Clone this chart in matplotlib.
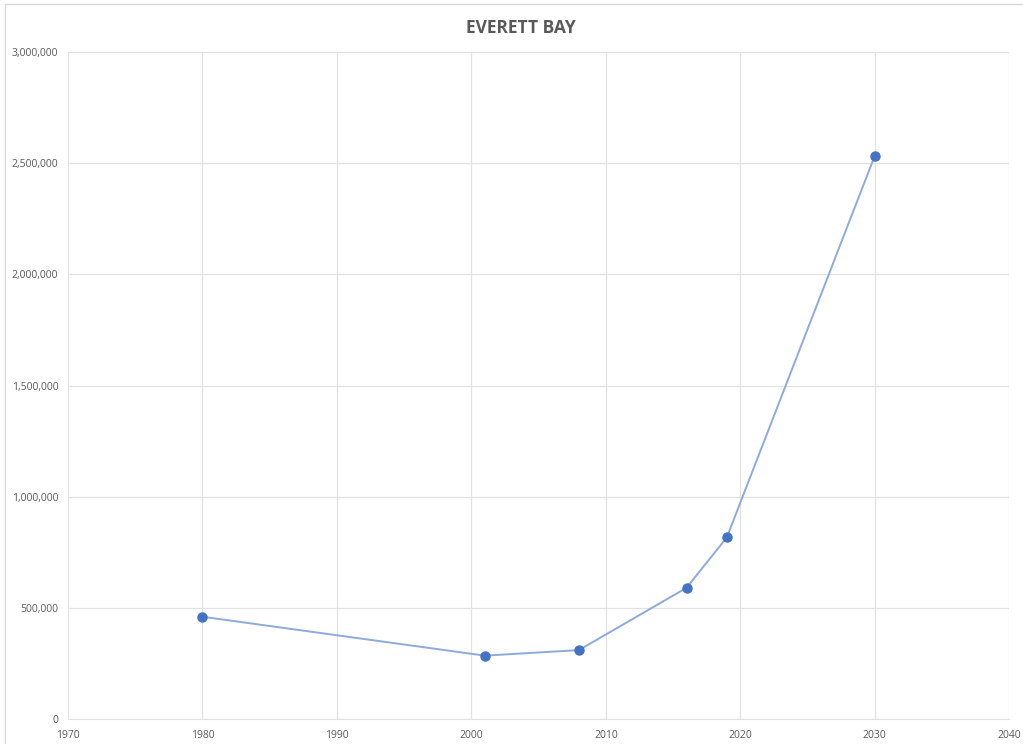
import matplotlib.pyplot as plt
from matplotlib.patches import Rectangle
from matplotlib.ticker import FuncFormatter, MultipleLocator

# Everett Bay series
years = [1980, 2001, 2008, 2016, 2019, 2030]
values = [460000, 285000, 310000, 590000, 817000, 2533000]

GRID = '#e2e2e2'
TEXT = '#595959'

plt.rcParams['font.family'] = ['Open Sans', 'DejaVu Sans']

fig = plt.figure(figsize=(10.23, 7.44), dpi=100)
ax = fig.add_axes([0.0665, 0.0336, 0.92, 0.8964])

ax.plot(years, values, '-', color='#8eaadb', linewidth=1.4, zorder=3)
ax.plot(years, values, 'o', color='#4472c4', markersize=6.5, zorder=4)

ax.set_xlim(1970, 2040)
ax.set_ylim(0, 3000000)
ax.xaxis.set_major_locator(MultipleLocator(10))
ax.yaxis.set_major_locator(MultipleLocator(500000))
ax.yaxis.set_major_formatter(FuncFormatter(lambda v, p: f'{int(v):,}'))

ax.grid(True, color=GRID, linewidth=0.9)
ax.set_axisbelow(True)
for s in ax.spines.values():
    s.set_visible(False)
ax.spines['bottom'].set_visible(True)
ax.spines['bottom'].set_color(GRID)
ax.tick_params(length=0, labelsize=7.5, colors=TEXT)
ax.tick_params(axis='y', pad=7)
ax.tick_params(axis='x', pad=8)

fig.text(0.509, 0.963, 'EVERETT BAY', ha='center', va='center',
         fontsize=12.5, fontweight='bold', color=TEXT)

# chart frame (right and bottom edges run off the canvas)
fig.patches.append(Rectangle((5 / 1023, -0.05), 1.1, 0.05 + 740 / 744,
                             transform=fig.transFigure, fill=False,
                             edgecolor='#d9d9d9', linewidth=1))

fig.savefig('out.png', dpi=100)
